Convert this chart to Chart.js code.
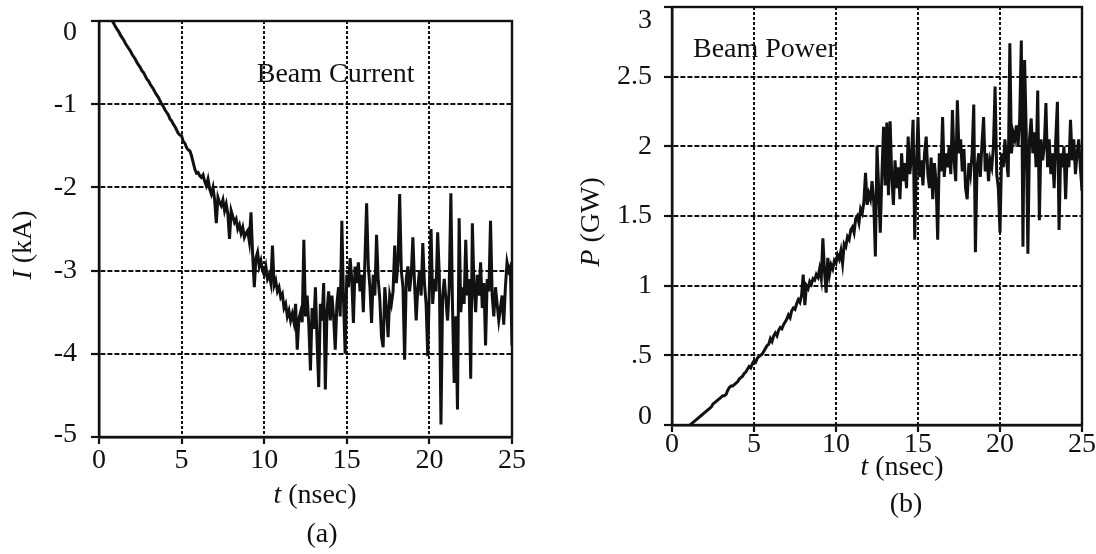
<!DOCTYPE html>
<html>
<head>
<meta charset="utf-8">
<title>Beam current and beam power</title>
<script src="https://cdn.jsdelivr.net/npm/chart.js@4.4.1/dist/chart.umd.min.js"></script>
<style>
  html, body { margin: 0; padding: 0; background: #fff; }
  #wrap { position: relative; width: 1096px; height: 554px; overflow: hidden; }
  canvas { position: absolute; top: 0; }
  #currentCanvas { left: 0; }
  #powerCanvas { left: 548px; }
</style>
</head>
<body>
<div id="wrap">
  <canvas id="currentCanvas" width="548" height="554"></canvas>
  <canvas id="powerCanvas" width="548" height="554"></canvas>
</div>
<script>
// ─── Data ────────────────────────────────────────────────────────────────────

// (a) beam current, t in nsec, I in kA
const currentTime = [
  0.8, 0.9, 1.0, 1.1, 1.2, 1.3, 1.4, 1.5, 1.6, 1.7,
  1.8, 1.9, 2.0, 2.1, 2.2, 2.3, 2.4, 2.5, 2.6, 2.7,
  2.8, 2.9, 3.0, 3.1, 3.2, 3.3, 3.4, 3.5, 3.6, 3.7,
  3.8, 3.9, 4.0, 4.1, 4.2, 4.3, 4.4, 4.5, 4.6, 4.7,
  4.8, 4.9, 5.0, 5.1, 5.2, 5.3, 5.4, 5.5, 5.6, 5.7,
  5.8, 5.9, 6.0, 6.1, 6.2, 6.3, 6.4, 6.5, 6.6, 6.7,
  6.8, 6.9, 7.0, 7.1, 7.2, 7.3, 7.4, 7.5, 7.6, 7.7,
  7.8, 7.9, 8.0, 8.1, 8.2, 8.3, 8.4, 8.5, 8.6, 8.7,
  8.8, 8.9, 9.0, 9.1, 9.2, 9.3, 9.4, 9.5, 9.6, 9.7,
  9.8, 9.9, 10.0, 10.1, 10.2, 10.3, 10.4, 10.5, 10.6, 10.7,
  10.8, 10.9, 11.0, 11.1, 11.2, 11.3, 11.4, 11.5, 11.6, 11.7,
  11.8, 11.9, 12.0, 12.1, 12.2, 12.3, 12.4, 12.5, 12.6, 12.7,
  12.8, 12.9, 13.0, 13.1, 13.2, 13.3, 13.4, 13.5, 13.6, 13.7,
  13.8, 13.9, 14.0, 14.1, 14.2, 14.3, 14.4, 14.5, 14.6, 14.7,
  14.8, 14.9, 15.0, 15.1, 15.2, 15.3, 15.4, 15.5, 15.6, 15.7,
  15.8, 15.9, 16.0, 16.1, 16.2, 16.3, 16.4, 16.5, 16.6, 16.7,
  16.8, 16.9, 17.0, 17.1, 17.2, 17.3, 17.4, 17.5, 17.6, 17.7,
  17.8, 17.9, 18.0, 18.1, 18.2, 18.3, 18.4, 18.5, 18.6, 18.7,
  18.8, 18.9, 19.0, 19.1, 19.2, 19.3, 19.4, 19.5, 19.6, 19.7,
  19.8, 19.9, 20.0, 20.1, 20.2, 20.3, 20.4, 20.5, 20.6, 20.7,
  20.8, 20.9, 21.0, 21.1, 21.2, 21.3, 21.4, 21.5, 21.6, 21.7,
  21.8, 21.9, 22.0, 22.1, 22.2, 22.3, 22.4, 22.5, 22.6, 22.7,
  22.8, 22.9, 23.0, 23.1, 23.2, 23.3, 23.4, 23.5, 23.6, 23.7,
  23.8, 23.9, 24.0, 24.1, 24.2, 24.3, 24.4, 24.5, 24.6, 24.7,
  24.8, 24.9, 25.0
];
const currentKA = [
  0.00, -0.03, -0.07, -0.10, -0.13, -0.17, -0.20, -0.23, -0.27, -0.30,
  -0.33, -0.36, -0.40, -0.43, -0.46, -0.50, -0.53, -0.56, -0.60, -0.62,
  -0.66, -0.70, -0.72, -0.76, -0.79, -0.82, -0.86, -0.89, -0.92, -0.96,
  -1.00, -1.03, -1.07, -1.10, -1.13, -1.18, -1.20, -1.24, -1.27, -1.31,
  -1.35, -1.37, -1.38, -1.45, -1.47, -1.52, -1.55, -1.56, -1.62, -1.70,
  -1.78, -1.83, -1.82, -1.86, -1.88, -1.85, -1.93, -1.98, -1.90, -2.02,
  -2.08, -2.00, -2.15, -2.43, -2.12, -2.18, -2.22, -2.15, -2.28, -2.20,
  -2.32, -2.62, -2.28, -2.35, -2.42, -2.38, -2.50, -2.45, -2.55, -2.48,
  -2.60, -2.55, -2.52, -2.65, -2.30, -2.80, -3.20, -2.85, -2.78, -2.95,
  -2.88, -3.00, -3.05, -2.95, -3.10, -3.05, -3.15, -2.70, -3.18, -3.12,
  -3.25, -3.20, -3.32, -3.28, -3.45, -3.40, -3.55, -3.48, -3.60, -3.52,
  -3.62, -3.40, -3.95, -3.58, -3.50, -3.62, -2.63, -3.55, -3.30, -3.65,
  -4.20, -3.45, -3.70, -3.20, -3.85, -4.40, -3.40, -3.60, -3.15, -4.43,
  -3.50, -3.25, -3.60, -3.30, -3.55, -3.95, -3.40, -3.20, -3.55, -2.40,
  -3.35, -4.00, -3.05, -3.20, -2.85, -3.10, -3.63, -2.95, -3.15, -2.90,
  -3.25, -3.05, -3.50, -2.85, -2.19, -2.95, -3.20, -3.63, -3.05, -3.30,
  -2.57, -3.10, -3.35, -3.80, -3.92, -3.20, -3.45, -3.80, -3.30, -3.40,
  -3.25, -2.70, -3.15, -2.90, -2.08, -3.00, -3.20, -4.07, -3.10, -2.95,
  -3.25, -3.05, -2.60, -3.15, -3.60, -3.20, -3.00, -3.30, -2.67, -3.15,
  -3.40, -4.03, -3.20, -2.50, -3.40, -3.10, -3.25, -2.54, -3.05, -4.85,
  -3.30, -3.10, -3.35, -3.60, -3.20, -2.07, -3.45, -4.35, -3.55, -4.67,
  -2.37, -3.50, -3.20, -3.40, -2.63, -3.30, -3.10, -4.30, -2.43, -3.20,
  -3.50, -3.05, -3.30, -2.90, -3.45, -3.15, -3.90, -3.10, -3.25, -2.40,
  -3.30, -3.55, -3.20, -3.40, -3.60, -3.45, -3.30, -3.65, -3.20, -2.90,
  -3.00, -2.95, -3.90
];

// (b) beam power, t in nsec, P in GW
const powerTime = [
  1.1, 1.2, 1.3, 1.4, 1.5, 1.6, 1.7, 1.8, 1.9, 2.0,
  2.1, 2.2, 2.3, 2.4, 2.5, 2.6, 2.7, 2.8, 2.9, 3.0,
  3.1, 3.2, 3.3, 3.4, 3.5, 3.6, 3.7, 3.8, 3.9, 4.0,
  4.1, 4.2, 4.3, 4.4, 4.5, 4.6, 4.7, 4.8, 4.9, 5.0,
  5.1, 5.2, 5.3, 5.4, 5.5, 5.6, 5.7, 5.8, 5.9, 6.0,
  6.1, 6.2, 6.3, 6.4, 6.5, 6.6, 6.7, 6.8, 6.9, 7.0,
  7.1, 7.2, 7.3, 7.4, 7.5, 7.6, 7.7, 7.8, 7.9, 8.0,
  8.1, 8.2, 8.3, 8.4, 8.5, 8.6, 8.7, 8.8, 8.9, 9.0,
  9.1, 9.2, 9.3, 9.4, 9.5, 9.6, 9.7, 9.8, 9.9, 10.0,
  10.1, 10.2, 10.3, 10.4, 10.5, 10.6, 10.7, 10.8, 10.9, 11.0,
  11.1, 11.2, 11.3, 11.4, 11.5, 11.6, 11.7, 11.8, 11.9, 12.0,
  12.1, 12.2, 12.3, 12.4, 12.5, 12.6, 12.7, 12.8, 12.9, 13.0,
  13.1, 13.2, 13.3, 13.4, 13.5, 13.6, 13.7, 13.8, 13.9, 14.0,
  14.1, 14.2, 14.3, 14.4, 14.5, 14.6, 14.7, 14.8, 14.9, 15.0,
  15.1, 15.2, 15.3, 15.4, 15.5, 15.6, 15.7, 15.8, 15.9, 16.0,
  16.1, 16.2, 16.3, 16.4, 16.5, 16.6, 16.7, 16.8, 16.9, 17.0,
  17.1, 17.2, 17.3, 17.4, 17.5, 17.6, 17.7, 17.8, 17.9, 18.0,
  18.1, 18.2, 18.3, 18.4, 18.5, 18.6, 18.7, 18.8, 18.9, 19.0,
  19.1, 19.2, 19.3, 19.4, 19.5, 19.6, 19.7, 19.8, 19.9, 20.0,
  20.1, 20.2, 20.3, 20.4, 20.5, 20.6, 20.7, 20.8, 20.9, 21.0,
  21.1, 21.2, 21.3, 21.4, 21.5, 21.6, 21.7, 21.8, 21.9, 22.0,
  22.1, 22.2, 22.3, 22.4, 22.5, 22.6, 22.7, 22.8, 22.9, 23.0,
  23.1, 23.2, 23.3, 23.4, 23.5, 23.6, 23.7, 23.8, 23.9, 24.0,
  24.1, 24.2, 24.3, 24.4, 24.5, 24.6, 24.7, 24.8, 24.9, 25.0
];
const powerGW = [
  0.00, 0.01, 0.02, 0.03, 0.04, 0.05, 0.06, 0.07, 0.08, 0.09,
  0.10, 0.11, 0.12, 0.13, 0.15, 0.16, 0.17, 0.18, 0.19, 0.20,
  0.21, 0.21, 0.22, 0.25, 0.27, 0.28, 0.28, 0.29, 0.30, 0.31,
  0.33, 0.34, 0.35, 0.37, 0.38, 0.40, 0.42, 0.41, 0.44, 0.46,
  0.45, 0.48, 0.49, 0.50, 0.51, 0.53, 0.55, 0.57, 0.58, 0.62,
  0.60, 0.64, 0.66, 0.64, 0.68, 0.70, 0.69, 0.72, 0.74, 0.76,
  0.79, 0.77, 0.82, 0.84, 0.83, 0.87, 0.90, 0.88, 0.93, 1.08,
  0.86, 1.00, 0.98, 1.03, 1.01, 1.05, 1.04, 1.08, 1.06, 1.12,
  1.05, 1.34, 1.10, 0.95, 1.20, 1.08, 1.15, 1.12, 1.18, 1.16,
  1.22, 1.19, 1.25, 1.16, 1.30, 1.28, 1.35, 1.33, 1.40, 1.42,
  1.38, 1.48, 1.50, 1.45, 1.55, 1.52, 1.60, 1.81, 1.58, 1.66,
  1.62, 1.75, 1.60, 1.21, 2.00, 1.70, 1.38, 1.80, 2.14, 1.72,
  2.17, 1.65, 2.18, 1.78, 1.58, 1.90, 1.70, 1.85, 1.62, 1.95,
  1.75, 1.88, 1.70, 2.07, 1.80, 1.92, 2.19, 1.33, 1.85, 2.21,
  1.78, 1.90, 1.72, 1.95, 2.07, 1.80, 1.70, 1.92, 1.62, 1.88,
  1.75, 1.33, 1.95, 1.82, 2.21, 1.78, 1.95, 1.85, 2.00, 1.80,
  2.26, 1.90, 1.75, 2.33, 1.95, 2.05, 1.82, 1.98, 1.70, 1.62,
  1.88, 1.80, 1.95, 2.30, 1.24, 1.85, 1.95, 1.78, 2.02, 2.21,
  1.82, 1.95, 1.75, 1.90, 1.85, 2.00, 2.43, 1.80, 1.70, 1.38,
  1.95, 1.85, 2.05, 1.90, 1.78, 2.74, 1.95, 2.10, 2.05, 2.15,
  2.00, 2.20, 2.76, 1.28, 2.62, 2.10, 1.23, 2.05, 2.20, 1.95,
  2.10, 1.85, 2.40, 1.47, 2.05, 1.90, 2.00, 2.31, 1.85, 2.05,
  1.80, 1.95, 1.70, 2.05, 2.32, 1.40, 1.95, 1.85, 2.00, 1.62,
  1.95, 1.85, 2.19, 1.90, 2.05, 1.80, 1.95, 2.05, 1.85, 1.68
];

// tick values and labels
const timeTicks         = [0, 5, 10, 15, 20, 25];
const currentTicks      = [0, -1, -2, -3, -4, -5];
const currentTickLabels = ['0', '-1', '-2', '-3', '-4', '-5'];
const powerTicks        = [0, 0.5, 1, 1.5, 2, 2.5, 3];
const powerTickLabels   = ['0', '.5', '1', '1.5', '2', '2.5', '3'];

// ─── Style ───────────────────────────────────────────────────────────────────

const SERIF = "'Liberation Serif', 'Times New Roman', serif";
const INK   = '#111';
const FS    = 28; // scanned figure uses one big serif size throughout

// draw "italic part + upright part" centred on (x, y), optionally rotated
function drawMixed(ctx, parts, x, y, size, angle) {
  ctx.save();
  ctx.translate(x, y);
  if (angle) ctx.rotate(angle);
  ctx.fillStyle = INK;
  ctx.textBaseline = 'middle';
  ctx.textAlign = 'left';
  const fonts  = parts.map(p => `${p.italic ? 'italic ' : ''}${size}px ${SERIF}`);
  const widths = parts.map((p, i) => { ctx.font = fonts[i]; return ctx.measureText(p.text).width; });
  let cx = -widths.reduce((a, b) => a + b, 0) / 2;
  parts.forEach((p, i) => {
    ctx.font = fonts[i];
    ctx.fillText(p.text, cx, 0);
    cx += widths[i];
  });
  ctx.restore();
}

// box frame, y tick labels (end labels kept inside the box height like the
// original), in-plot caption, axis titles and panel letter
const framePlugin = {
  id: 'frame',
  afterDraw(chart, args, o) {
    const { ctx, chartArea: a, scales } = chart;
    ctx.save();
    ctx.strokeStyle = INK;
    ctx.lineWidth = 2.4;
    ctx.strokeRect(a.left, a.top, a.right - a.left, a.bottom - a.top);

    ctx.fillStyle = INK;
    ctx.font = `${FS}px ${SERIF}`;
    ctx.textAlign = 'right';
    ctx.textBaseline = 'middle';
    o.yTicks.forEach((v, i) => {
      let y = scales.y.getPixelForValue(v);
      y = Math.min(Math.max(y, a.top + o.labelInset[0]), a.bottom - o.labelInset[1]);
      ctx.fillText(o.yLabels[i], a.left - o.labelGap, y);
    });

    ctx.textAlign = 'left';
    ctx.textBaseline = 'alphabetic';
    ctx.fillText(o.caption, scales.x.getPixelForValue(o.captionAt[0]), scales.y.getPixelForValue(o.captionAt[1]));
    ctx.restore();

    drawMixed(ctx, o.yTitle, o.yTitleAt[0], o.yTitleAt[1], FS, -Math.PI / 2);
    drawMixed(ctx, o.xTitle, o.xTitleAt[0], o.xTitleAt[1], FS, 0);
    drawMixed(ctx, [{ text: o.panel }], o.panelAt[0], o.panelAt[1], FS, 0);
  }
};

function axisTicks(values) {
  return scale => { scale.ticks = values.map(v => ({ value: v })); };
}

function makeChart(canvasId, cfg) {
  const points = cfg.times.map((t, i) => ({ x: t, y: cfg.values[i] }));
  return new Chart(document.getElementById(canvasId), {
    type: 'line',
    data: {
      datasets: [{
        data: points,
        borderColor: INK,
        borderWidth: 3,
        borderJoinStyle: 'miter',
        pointRadius: 0,
        tension: 0,
        fill: false,
      }],
    },
    options: {
      responsive: false,
      animation: false,
      devicePixelRatio: 1,
      layout: { padding: cfg.padding },
      plugins: {
        legend: { display: false },
        tooltip: { enabled: false },
        frame: { ...cfg.frame, yTicks: cfg.yTicks, yLabels: cfg.yLabels },
      },
      scales: {
        x: {
          type: 'linear',
          min: 0, max: 25,
          afterBuildTicks: axisTicks(timeTicks),
          afterFit: s => { s.height = cfg.xHeight; s.paddingLeft = 0; s.paddingRight = 0; },
          grid:   { color: INK, lineWidth: 2, tickLength: 7, tickColor: INK, tickWidth: 2.2, tickBorderDash: [] },
          border: { display: true, color: INK, width: 2.4, dash: [3, 2] },
          ticks:  { color: INK, font: { family: SERIF, size: FS }, padding: cfg.xPad, maxRotation: 0, autoSkip: false },
        },
        y: {
          type: 'linear',
          min: cfg.yMin, max: cfg.yMax,
          afterBuildTicks: axisTicks(cfg.yTicks),
          afterFit: s => { s.width = cfg.yWidth; s.paddingTop = 0; s.paddingBottom = 0; },
          grid:   { color: INK, lineWidth: 2, tickLength: 8, tickColor: INK, tickWidth: 2.2, tickBorderDash: [] },
          border: { display: true, color: INK, width: 2.4, dash: [5, 2] },
          ticks:  { display: false },
        },
      },
    },
    plugins: [framePlugin],
  });
}

// ─── Charts ──────────────────────────────────────────────────────────────────

makeChart('currentCanvas', {
  times: currentTime, values: currentKA,
  yMin: -5, yMax: 0, yTicks: currentTicks, yLabels: currentTickLabels,
  padding: { top: 21, right: 36, left: 0, bottom: 0 },
  yWidth: 99, xHeight: 117, xPad: 0,
  frame: {
    labelGap: 22, labelInset: [12, 2],
    caption: 'Beam Current', captionAt: [9.55, -0.73],
    yTitle: [{ text: 'I', italic: true }, { text: ' (kA)' }], yTitleAt: [24, 245],
    xTitle: [{ text: 't', italic: true }, { text: ' (nsec)' }], xTitleAt: [315, 496],
    panel: '(a)', panelAt: [322, 535],
  },
});

makeChart('powerCanvas', {
  times: powerTime, values: powerGW,
  yMin: 0, yMax: 3, yTicks: powerTicks, yLabels: powerTickLabels,
  padding: { top: 7, right: 14, left: 0, bottom: 0 },
  yWidth: 124, xHeight: 129, xPad: -4,
  frame: {
    labelGap: 20, labelInset: [14, 8],
    caption: 'Beam Power', captionAt: [1.28, 2.64],
    yTitle: [{ text: 'P', italic: true }, { text: ' (GW)' }], yTitleAt: [44, 222],
    xTitle: [{ text: 't', italic: true }, { text: ' (nsec)' }], xTitleAt: [354, 468],
    panel: '(b)', panelAt: [358, 505],
  },
});
</script>
</body>
</html>
